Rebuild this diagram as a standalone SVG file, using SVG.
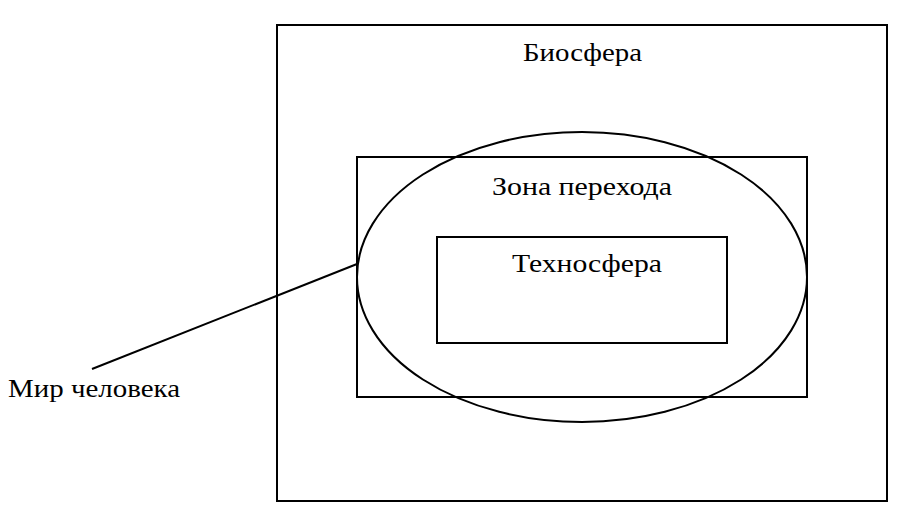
<svg xmlns="http://www.w3.org/2000/svg" width="898" height="516" viewBox="0 0 898 516">
<style>
.s{fill:none;stroke:#000;stroke-width:2}
.t{font-family:"Liberation Serif","Times New Roman",serif;font-size:26px;fill:#000}
</style>
<rect width="898" height="516" fill="#fff"/>
<g id="biosphere"><rect class="s" x="277" y="25" width="610" height="476"/><text class="t" x="523" y="61" textLength="119" lengthAdjust="spacingAndGlyphs">Биосфера</text></g>
<g id="transition"><rect class="s" x="357" y="157" width="450" height="240"/><text class="t" x="492" y="195" textLength="180" lengthAdjust="spacingAndGlyphs">Зона перехода</text></g>
<g id="technosphere"><rect class="s" x="437" y="237" width="290" height="106"/><text class="t" x="512" y="272" textLength="150" lengthAdjust="spacingAndGlyphs">Техносфера</text></g>
<g id="human-world"><ellipse class="s" cx="582" cy="277" rx="225" ry="145"/><text class="t" x="8" y="397" textLength="172" lengthAdjust="spacingAndGlyphs">Мир человека</text></g>
<g id="connectors"><line class="s" x1="357" y1="264" x2="92" y2="369" stroke-width="1.5"/></g>
</svg>
